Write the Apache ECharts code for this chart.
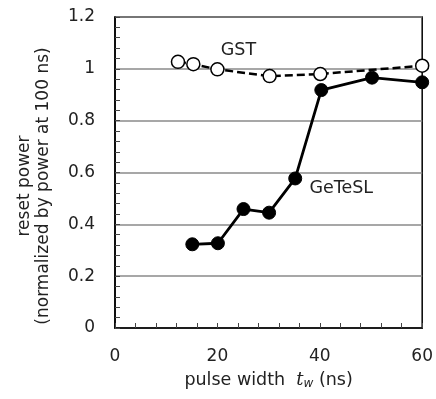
<!DOCTYPE html>
<html>
<head>
<meta charset="utf-8">
<script src="https://cdn.jsdelivr.net/npm/echarts@6/dist/echarts.min.js"></script>
<style>html,body{margin:0;padding:0;background:#fff;}#c{width:436px;height:399px;}</style>
</head>
<body>
<div id="c"></div>
<script>
const gstX = [12.3, 15.3, 20, 30.2, 40.1, 60];
const gstY = [1.027, 1.018, 0.998, 0.972, 0.98, 1.012];
const gtsX = [15.1, 20.1, 25.1, 30.1, 35.2, 40.3, 50.2, 60];
const gtsY = [0.323, 0.327, 0.459, 0.445, 0.577, 0.918, 0.966, 0.948];
const gstLabel = 'GST';
const gtsLabel = 'GeTeSL';
const gstLabelIndex = 2;
const gtsLabelIndex = 4;

const FONT = 'DejaVu Sans';
const TXT = '#222';

function build(xs, ys, labelIdx, labelText, offset) {
  return xs.map((x, i) => {
    const item = { value: [x, ys[i]] };
    if (i === labelIdx) {
      item.label = {
        show: true, formatter: labelText, position: 'inside', offset: offset,
        fontFamily: FONT, fontSize: 17.5, color: TXT
      };
    }
    return item;
  });
}

const chart = echarts.init(document.getElementById('c'), null, { renderer: 'canvas' });
chart.setOption({
  animation: false,
  backgroundColor: '#fff',
  grid: { left: 115, right: 13, top: 17, bottom: 71, show: true, borderColor: '#000', borderWidth: 1.5, backgroundColor: 'transparent' },
  xAxis: {
    type: 'value', min: 0, max: 60, interval: 20,
    axisLine: { lineStyle: { color: '#000', width: 1.5 } },
    axisTick: { inside: true, length: 5, lineStyle: { color: '#444' } },
    minorTick: { show: true, splitNumber: 5, length: 5, lineStyle: { color: '#444' } },
    axisLabel: { margin: 20, fontFamily: FONT, fontSize: 17, color: TXT },
    splitLine: { show: false },
    name: '{a|pulse width  }{i|t}{s|w}{a| (ns)}',
    nameLocation: 'middle', nameGap: 42,
    nameTextStyle: {
      fontFamily: FONT, fontSize: 17.5, color: TXT,
      rich: {
        a: { fontFamily: FONT, fontSize: 17.5, color: TXT },
        i: { fontFamily: 'DejaVu Serif', fontStyle: 'italic', fontSize: 18, color: TXT },
        s: { fontFamily: FONT, fontStyle: 'italic', fontSize: 12, color: TXT, padding: [8, 0, 0, 0] }
      }
    }
  },
  yAxis: {
    type: 'value', min: 0, max: 1.2, interval: 0.2,
    axisLine: { show: true, lineStyle: { color: '#000', width: 1.5 } },
    axisTick: { show: true, inside: true, length: 5, lineStyle: { color: '#444' } },
    minorTick: { show: true, splitNumber: 5, length: 5, lineStyle: { color: '#444' } },
    axisLabel: { margin: 20, fontFamily: FONT, fontSize: 17, color: TXT },
    splitLine: { show: true, lineStyle: { color: '#8a8a8a', width: 1.5 } }
  },
  graphic: [{
    type: 'text', x: 34, y: 186, rotation: Math.PI / 2,
    style: {
      text: 'reset power\n(normalized by power at 100 ns)',
      fontFamily: FONT, fontSize: 17, lineHeight: 19, fill: TXT,
      align: 'center', verticalAlign: 'middle'
    }
  }],
  series: [
    {
      name: 'GST', type: 'line',
      data: build(gstX, gstY, gstLabelIndex, gstLabel, [21, -19]),
      symbol: 'circle', symbolSize: 13,
      itemStyle: { color: '#fff', borderColor: '#000', borderWidth: 1.5 },
      lineStyle: { color: '#000', width: 2.5, type: [8, 4] },
      z: 3
    },
    {
      name: 'GeTeSL', type: 'line',
      data: build(gtsX, gtsY, gtsLabelIndex, gtsLabel, [46, 10]),
      symbol: 'circle', symbolSize: 13,
      itemStyle: { color: '#000', borderColor: '#000', borderWidth: 1 },
      lineStyle: { color: '#000', width: 2.8 },
      z: 2
    }
  ]
});
</script>
</body>
</html>
